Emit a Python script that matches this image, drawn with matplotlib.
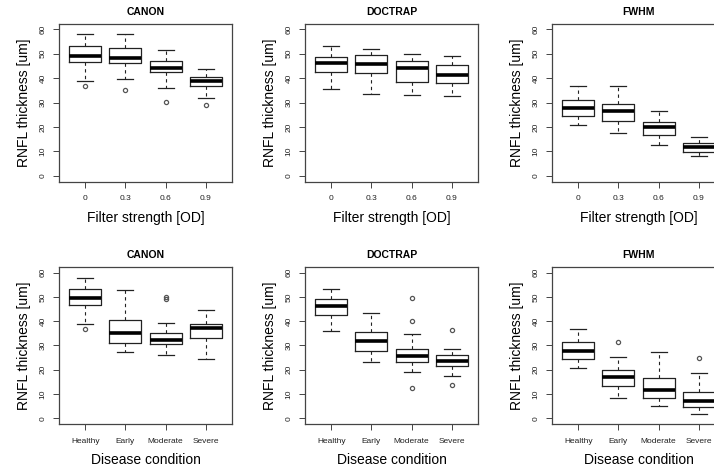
import matplotlib.pyplot as plt

plt.rcParams["font.family"] = ["Liberation Sans", "DejaVu Sans"]

FILTER_LABELS = ["0", "0.3", "0.6", "0.9"]
DISEASE_LABELS = ["Healthy", "Early", "Moderate", "Severe"]

# five-number summaries: (whisker low, q1, median, q3, whisker high)
canon_od = [(38.9, 46.5, 49.0, 53.1, 57.9), (39.7, 46.3, 48.2, 52.2, 57.9),
            (36.1, 42.6, 44.3, 47.0, 51.5), (32.0, 36.9, 38.9, 40.6, 43.9)]
canon_od_out = [[36.8], [35.0], [30.2], [29.1]]

doctrap_od = [(35.7, 42.4, 46.0, 48.7, 53.1), (33.6, 42.0, 45.7, 49.6, 52.0),
              (33.0, 38.4, 44.1, 47.1, 50.0), (32.5, 38.2, 41.2, 45.4, 49.2)]
doctrap_od_out = [[], [], [], []]

fwhm_od = [(20.7, 24.4, 27.9, 31.2, 36.9), (17.4, 22.5, 26.4, 29.4, 36.9),
           (12.4, 16.5, 19.8, 21.8, 26.5), (8.2, 9.6, 11.7, 13.3, 15.9)]
fwhm_od_out = [[], [], [], []]

canon_dis = [(38.8, 46.8, 49.4, 53.1, 57.9), (27.2, 31.1, 35.2, 40.3, 53.0),
             (26.1, 30.7, 32.3, 35.2, 39.4), (24.4, 33.0, 37.2, 38.9, 44.6)]
canon_dis_out = [[36.7], [], [50.0, 48.9], []]

doctrap_dis = [(35.9, 42.5, 46.1, 48.9, 53.4), (23.0, 27.7, 31.9, 35.6, 43.5),
               (19.0, 23.1, 25.5, 28.3, 34.5), (17.2, 21.6, 23.5, 26.0, 28.6)]
doctrap_dis_out = [[], [], [49.5, 39.9, 12.4], [36.3, 13.5]]

fwhm_dis = [(20.6, 24.5, 27.8, 31.2, 36.9), (8.4, 13.2, 17.1, 19.8, 25.3),
            (5.0, 8.4, 11.7, 16.5, 27.4), (1.7, 4.5, 7.2, 10.7, 18.7)]
fwhm_dis_out = [[], [31.4], [], [24.9]]

panels = [
    ("CANON", canon_od, canon_od_out, FILTER_LABELS, "Filter strength [OD]"),
    ("DOCTRAP", doctrap_od, doctrap_od_out, FILTER_LABELS, "Filter strength [OD]"),
    ("FWHM", fwhm_od, fwhm_od_out, FILTER_LABELS, "Filter strength [OD]"),
    ("CANON", canon_dis, canon_dis_out, DISEASE_LABELS, "Disease condition"),
    ("DOCTRAP", doctrap_dis, doctrap_dis_out, DISEASE_LABELS, "Disease condition"),
    ("FWHM", fwhm_dis, fwhm_dis_out, DISEASE_LABELS, "Disease condition"),
]

W, H = 714, 470
fig = plt.figure(figsize=(W / 100, H / 100), dpi=100)

# axes frames in pixels, measured on the reference
lefts = [59, 305, 552]
width = 173
row_top = [23.5, 266.7]
row_bot = [181.5, 424.0]

frame_col = "#444444"

for i, (title, summ, outs, labels, xlabel) in enumerate(panels):
    r, c = divmod(i, 3)
    ax = fig.add_axes([lefts[c] / W, 1 - row_bot[r] / H, width / W,
                       (row_bot[r] - row_top[r]) / H])
    stats = []
    for (lo, q1, med, q3, hi), fl in zip(summ, outs):
        stats.append({"whislo": lo, "q1": q1, "med": med, "q3": q3,
                      "whishi": hi, "fliers": fl})
    ax.bxp(stats, positions=[1, 2, 3, 4], widths=0.8, capwidths=0.4,
           boxprops=dict(color="#222222", lw=0.9),
           medianprops=dict(color="black", lw=2.6, solid_capstyle="butt"),
           whiskerprops=dict(color="#222222", lw=0.8, linestyle=(0, (3, 3))),
           capprops=dict(color="#222222", lw=0.9),
           flierprops=dict(marker="o", markersize=3, markerfacecolor="none",
                           markeredgecolor="#555555", markeredgewidth=0.9))
    ax.set_xlim(0.34, 4.66)
    ax.set_ylim(-2.4, 62.4)
    ax.set_xticks([1, 2, 3, 4])
    ax.set_xticklabels(labels, fontsize=6)
    ax.set_yticks(range(0, 61, 10))
    ax.set_yticklabels([str(v) for v in range(0, 61, 10)], fontsize=6,
                       rotation=90, va="center")
    ax.tick_params(axis="both", direction="out", length=4, width=0.7,
                   color=frame_col, labelcolor="#222222")
    ax.tick_params(axis="x", pad=6)
    ax.tick_params(axis="y", pad=5)
    for sp in ax.spines.values():
        sp.set_color(frame_col)
        sp.set_linewidth(0.9)
    ax.set_title(title, fontsize=7.5, fontweight="bold", pad=6)
    ax.set_xlabel(xlabel, fontsize=10, labelpad=6)
    ax.set_ylabel("RNFL thickness [um]", fontsize=10, labelpad=6)

fig.savefig("out.png", dpi=100)
